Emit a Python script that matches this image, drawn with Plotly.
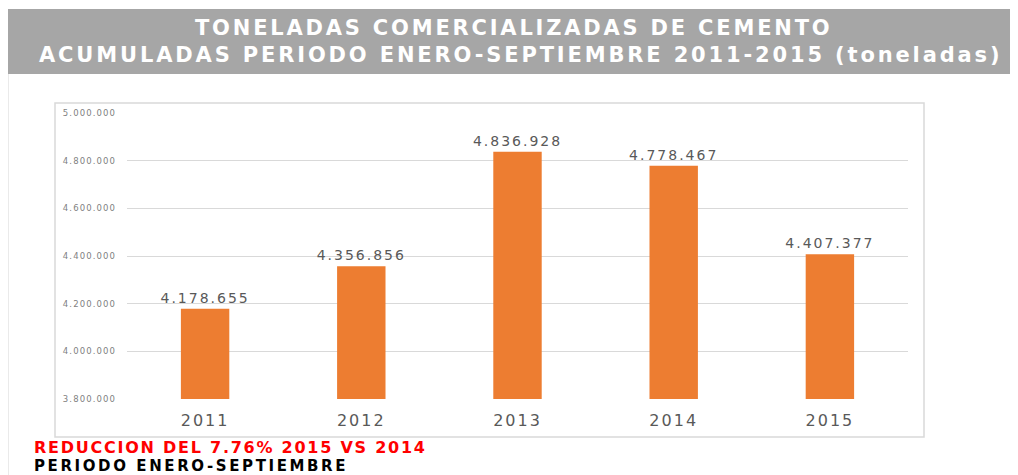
import plotly.graph_objects as go

years = ["2011", "2012", "2013", "2014", "2015"]
tons = [4178655, 4356856, 4836928, 4778467, 4407377]
tick_vals = [3800000, 4000000, 4200000, 4400000, 4600000, 4800000, 5000000]
tick_text = ["3.800.000", "4.000.000", "4.200.000", "4.400.000", "4.600.000", "4.800.000", "5.000.000"]
title_lines = ["TONELADAS COMERCIALIZADAS DE CEMENTO",
               "ACUMULADAS PERIODO ENERO-SEPTIEMBRE 2011-2015 (toneladas)"]
note_red = "REDUCCION DEL 7.76% 2015 VS 2014"
note_black = "PERIODO ENERO-SEPTIEMBRE"


def fmt(v):
    return f"{v:,}".replace(",", ".")


def spaced(s, ls):
    return f'<span style="letter-spacing:{ls}px">{s}</span>'


# the page body has an 8px margin: work in screen pixels and shift
OX, OY = 8, 8
W, H = 1018 - OX, 475 - OY
# plot area in screen pixels
SL, SR, ST, SB = 127, 908, 113, 399
L, R, T, B = SL - OX, SR - OX, ST - OY, SB - OY


def px(x):
    return ((x - OX) - L) / (R - L)


def py(y):
    return (B - (y - OY)) / (B - T)


fig = go.Figure(go.Bar(
    x=years, y=tons,
    marker=dict(color="#ED7D31", line=dict(width=0)),
    text=[spaced(fmt(v), 2) for v in tons], textposition="outside",
    constraintext="none",
    textfont=dict(family="DejaVu Sans", size=14, color="#595959"),
    cliponaxis=False,
))

shapes = [
    dict(type="rect", xref="paper", yref="paper", x0=px(4), x1=px(1040), y0=py(74), y1=py(9),
         fillcolor="#A6A6A6", line=dict(width=0), layer="below"),
    dict(type="rect", xref="paper", yref="paper", x0=px(55), x1=px(924), y0=py(437), y1=py(103),
         fillcolor="rgba(0,0,0,0)", line=dict(color="#D9D9D9", width=1.5), layer="below"),
    dict(type="line", xref="paper", yref="paper", x0=px(8), x1=px(8), y0=py(480), y1=py(74),
         line=dict(color="#E3E3E3", width=1.5), layer="below"),
]

title_font = dict(family="DejaVu Sans", size=21, color="white", weight="bold")
annotations = [
    dict(text=spaced(title_lines[0], 2.8), xref="paper", yref="paper", x=px(513), y=py(28),
         showarrow=False, xanchor="center", yanchor="middle", font=title_font),
    dict(text=spaced(title_lines[1], 2.85), xref="paper", yref="paper", x=px(520), y=py(55),
         showarrow=False, xanchor="center", yanchor="middle", font=title_font),
    dict(text=spaced(note_red, 1.75), xref="paper", yref="paper", x=px(32), y=py(447.5),
         showarrow=False, xanchor="left", yanchor="middle",
         font=dict(family="DejaVu Sans", size=16, color="#FF0000", weight="bold")),
    dict(text=spaced(note_black, 2.6), xref="paper", yref="paper", x=px(32), y=py(466),
         showarrow=False, xanchor="left", yanchor="middle",
         font=dict(family="DejaVu Sans", size=15, color="#000000", weight="bold")),
]

fig.update_layout(
    width=W, height=H,
    margin=dict(l=L, r=W - R, t=T, b=H - B, pad=0),
    paper_bgcolor="white", plot_bgcolor="white",
    showlegend=False, bargap=0.69,
    shapes=shapes, annotations=annotations,
    xaxis=dict(showgrid=False, showline=False, ticks="",
               tickvals=years, ticktext=[spaced(y, 2) for y in years],
               ticklabelstandoff=10,
               tickfont=dict(family="DejaVu Sans", size=16, color="#595959")),
    yaxis=dict(range=[3800000, 5000000], tickvals=tick_vals,
               ticktext=[spaced(t, 1.1) for t in tick_text],
               showgrid=True, gridcolor="#D9D9D9", gridwidth=1, zeroline=False,
               showline=False, ticks="", ticklabelstandoff=10,
               tickfont=dict(family="DejaVu Sans", size=8.5, color="#7F7F7F")),
)

fig.write_html("out.html")
